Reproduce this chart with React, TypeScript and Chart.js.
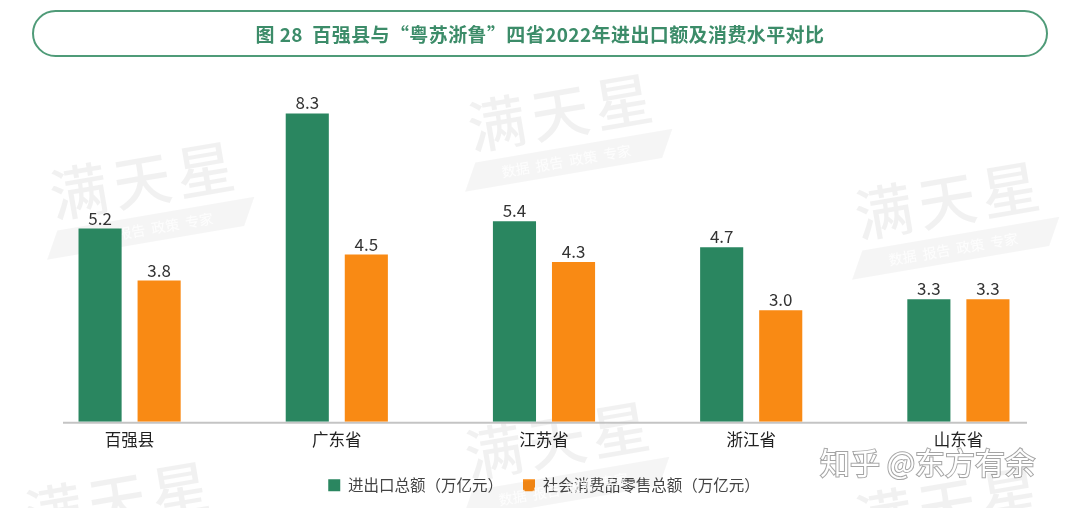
import React, { useEffect, useRef } from "react";
import { Chart, registerables } from "chart.js";

Chart.register(...registerables);

const categories = ["百强县", "广东省", "江苏省", "浙江省", "山东省"];
const tradeValues = [5.2, 8.3, 5.4, 4.7, 3.3];
const retailValues = [3.8, 4.5, 4.3, 3.0, 3.3];
const seriesNames = ["进出口总额（万亿元）", "社会消费品零售总额（万亿元）"];
const titleText = "图 28  百强县与“粤苏浙鲁”四省2022年进出口额及消费水平对比";
const watermarkText = "满天星";
const watermarkSub = "数据  报告  政策  专家";
const creditText = "知乎 @东方有余";

const FONT = "'Noto Sans CJK SC', 'Noto Sans', sans-serif";
const GREEN = "#2a8660";
const ORANGE = "#f98a14";

const watermarkSpots = [
  [145, 180],
  [563, 112],
  [950, 200],
  [560, 440],
  [120, 500],
  [950, 505],
];

const watermarkPlugin = {
  id: "watermarks",
  beforeDatasetsDraw(chart: any) {
    const ctx = chart.ctx;
    ctx.save();
    watermarkSpots.forEach(([x, y]) => {
      ctx.save();
      ctx.translate(x, y);
      ctx.rotate(-0.17);
      ctx.font = `500 58px ${FONT}`;
      (ctx as any).letterSpacing = "6px";
      ctx.fillStyle = "rgba(0,0,0,0.055)";
      ctx.textAlign = "center";
      ctx.textBaseline = "middle";
      ctx.fillText(watermarkText, 0, 0);
      (ctx as any).letterSpacing = "0px";
      ctx.fillStyle = "rgba(0,0,0,0.04)";
      ctx.beginPath();
      ctx.moveTo(-95, 35);
      ctx.lineTo(105, 35);
      ctx.lineTo(90, 62);
      ctx.lineTo(-110, 62);
      ctx.closePath();
      ctx.fill();
      ctx.font = `14px ${FONT}`;
      ctx.fillStyle = "rgba(255,255,255,0.8)";
      ctx.fillText(watermarkSub, -5, 49);
      ctx.restore();
    });
    ctx.restore();
  },
  afterDraw(chart: any) {
    const ctx = chart.ctx;
    ctx.save();
    ctx.font = `30px ${FONT}`;
    ctx.textAlign = "left";
    ctx.textBaseline = "middle";
    ctx.lineWidth = 2;
    ctx.strokeStyle = "rgba(90,90,90,0.55)";
    ctx.fillStyle = "#ffffff";
    ctx.strokeText(creditText, 820, 463);
    ctx.fillText(creditText, 820, 463);
    ctx.restore();
  },
};

const valueLabelPlugin = {
  id: "valueLabels",
  afterDatasetsDraw(chart: any) {
    const ctx = chart.ctx;
    ctx.save();
    ctx.font = `17px ${FONT}`;
    ctx.fillStyle = "#333333";
    ctx.textAlign = "center";
    ctx.textBaseline = "bottom";
    chart.data.datasets.forEach((ds: any, di: number) => {
      const meta = chart.getDatasetMeta(di);
      meta.data.forEach((bar: any, i: number) => {
        ctx.fillText(Number(ds.data[i]).toFixed(1), bar.x, bar.y - 2);
      });
    });
    ctx.restore();
  },
};

const baselinePlugin = {
  id: "baseline",
  beforeDatasetsDraw(chart: any) {
    const { ctx, chartArea, scales } = chart;
    const y = scales.y.getPixelForValue(0);
    ctx.save();
    ctx.strokeStyle = "#c4c4c4";
    ctx.lineWidth = 2;
    ctx.beginPath();
    ctx.moveTo(chartArea.left + 37, y + 1);
    ctx.lineTo(chartArea.right - 35, y + 1);
    ctx.stroke();
    ctx.restore();
  },
};

export default function App() {
  const ref = useRef<HTMLCanvasElement | null>(null);
  useEffect(() => {
    if (!ref.current) return;
    const chart = new Chart(ref.current, {
      type: "bar",
      data: {
        labels: categories,
        datasets: [
          {
            label: seriesNames[0],
            data: tradeValues,
            backgroundColor: GREEN,
            categoryPercentage: 0.57,
            barPercentage: 0.73,
          },
          {
            label: seriesNames[1],
            data: retailValues,
            backgroundColor: ORANGE,
            categoryPercentage: 0.57,
            barPercentage: 0.73,
          },
        ],
      },
      options: {
        animation: false,
        responsive: false,
        maintainAspectRatio: false,
        layout: { padding: { top: 80, left: 26, right: 18, bottom: 5 } },
        scales: {
          x: {
            grid: { display: false, drawTicks: false },
            border: { display: false },
            ticks: {
              color: "#222222",
              font: { family: FONT, size: 16.5 },
              padding: 8,
            },
          },
          y: {
            display: false,
            min: 0,
            max: 9.2,
          },
        },
        plugins: {
          legend: {
            position: "bottom",
            labels: {
              boxWidth: 12,
              boxHeight: 12,
              padding: 20,
              color: "#444444",
              font: { family: FONT, size: 15.5 },
            },
          },
          tooltip: { enabled: false },
        },
      },
      plugins: [watermarkPlugin, valueLabelPlugin, baselinePlugin],
    });
    return () => chart.destroy();
  }, []);

  return (
    <div style={{ position: "fixed", left: 0, top: 0, width: 1080, height: 508, background: "#fff" }}>
      <canvas ref={ref} width={1080} height={508} style={{ position: "absolute", left: 0, top: 0 }} />
      <div
        style={{
          position: "absolute",
          left: 32,
          top: 10,
          width: 1016,
          height: 47,
          border: "2px solid #4f9b78",
          borderRadius: 24,
          boxSizing: "border-box",
          display: "flex",
          alignItems: "center",
          justifyContent: "center",
          fontFamily: FONT,
          fontWeight: 700,
          fontSize: 19,
          letterSpacing: 0.4,
          color: "#3c8c69",
          whiteSpace: "pre",
          background: "transparent",
        }}
      >
        {titleText}
      </div>
    </div>
  );
}
